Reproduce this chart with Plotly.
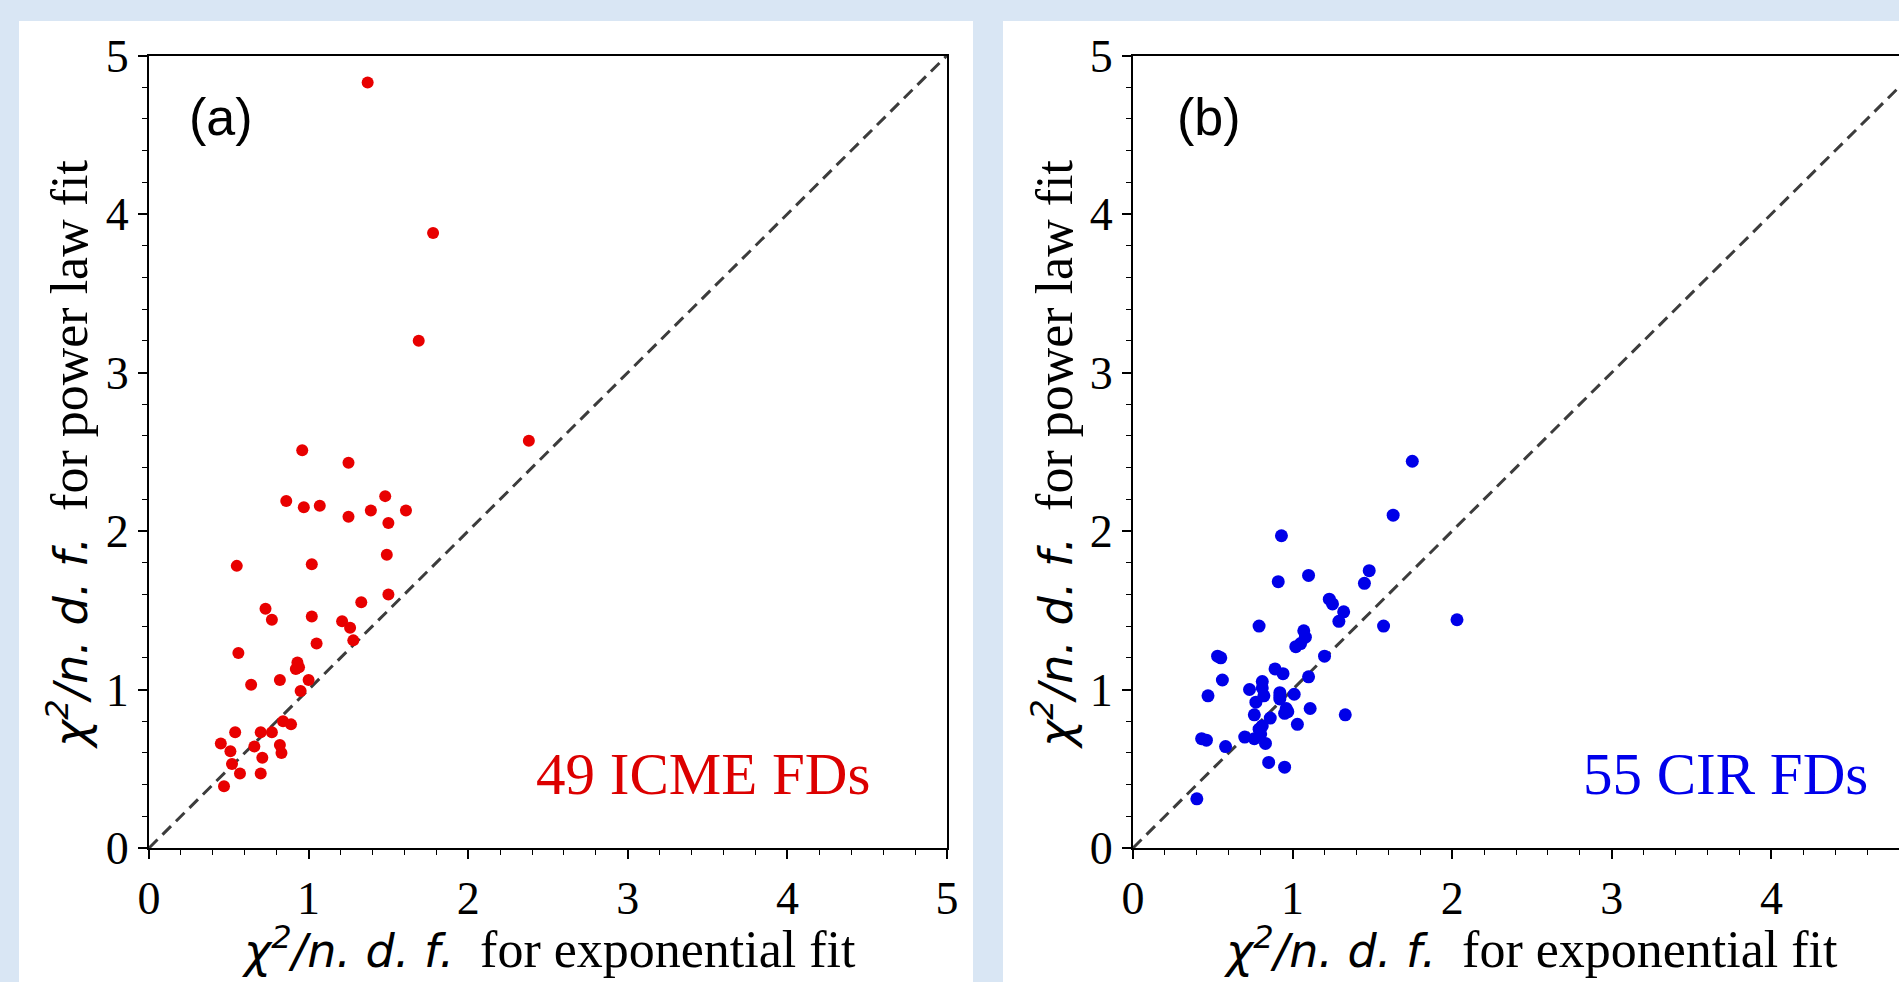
import plotly.graph_objects as go

# chi2/ndf values
icme_exp = [1.37, 1.78, 1.69, 2.38, 0.96, 1.25, 0.86, 0.97, 1.07, 1.48,
            1.39, 1.61, 1.25, 1.50, 0.55, 1.02, 1.49, 1.50, 1.33, 0.73,
            0.77, 1.02, 1.21, 1.26, 1.28, 1.05, 0.56, 0.93, 0.92, 0.64,
            0.82, 1.00, 0.95, 0.84, 0.89, 0.54, 0.70, 0.77, 0.45, 0.66,
            0.82, 0.51, 0.83, 0.71, 0.52, 0.57, 0.70, 0.47, 0.94]
icme_pow = [4.83, 3.88, 3.20, 2.57, 2.51, 2.43, 2.19, 2.15, 2.16, 2.22,
            2.13, 2.13, 2.09, 2.05, 1.78, 1.79, 1.85, 1.60, 1.55, 1.51,
            1.44, 1.46, 1.43, 1.39, 1.31, 1.29, 1.23, 1.17, 1.13, 1.03,
            1.06, 1.06, 0.99, 0.80, 0.78, 0.73, 0.73, 0.73, 0.66, 0.64,
            0.65, 0.61, 0.60, 0.57, 0.53, 0.47, 0.47, 0.39, 1.14]

cir_exp = [1.75, 1.63, 0.93, 0.91, 1.10, 1.48, 1.45, 1.23, 1.25, 1.32,
           1.29, 1.57, 2.03, 0.79, 1.07, 1.08, 1.02, 1.05, 1.20, 0.53,
           0.55, 0.89, 0.94, 0.56, 1.10, 0.81, 0.81, 0.73, 0.47, 0.82,
           0.92, 1.01, 0.77, 0.92, 0.96, 1.11, 0.76, 0.95, 1.33, 0.86,
           1.03, 0.81, 0.70, 0.76, 0.80, 0.43, 0.46, 0.58, 0.83, 0.85,
           0.95, 0.40, 0.97, 0.79, 0.92]
cir_pow = [2.44, 2.10, 1.97, 1.68, 1.72, 1.75, 1.67, 1.57, 1.54, 1.49,
           1.43, 1.40, 1.44, 1.40, 1.37, 1.33, 1.27, 1.29, 1.21, 1.21,
           1.20, 1.13, 1.10, 1.06, 1.08, 1.05, 1.01, 1.00, 0.96, 0.96,
           0.98, 0.97, 0.92, 0.94, 0.88, 0.88, 0.84, 0.85, 0.84, 0.82,
           0.78, 0.77, 0.70, 0.69, 0.72, 0.69, 0.68, 0.64, 0.66, 0.54,
           0.51, 0.31, 0.86, 0.75, 0.96]

diag = [0, 5]
tick_vals = [0, 1, 2, 3, 4, 5]

W, H = 1899, 982


def px(x):
    return x / W


def py(y):
    return 1 - y / H


fig = go.Figure()

dash_line = dict(color="#3c3c3c", width=3, dash="12px,7px")
fig.add_trace(go.Scatter(x=diag, y=diag, mode="lines", xaxis="x", yaxis="y", line=dash_line))
fig.add_trace(go.Scatter(x=icme_exp, y=icme_pow, mode="markers", xaxis="x", yaxis="y",
                         marker=dict(color="rgb(232,0,0)", size=12)))
fig.add_trace(go.Scatter(x=diag, y=diag, mode="lines", xaxis="x2", yaxis="y2", line=dash_line))
fig.add_trace(go.Scatter(x=cir_exp, y=cir_pow, mode="markers", xaxis="x2", yaxis="y2",
                         marker=dict(color="rgb(0,0,232)", size=13)))

tick_font = dict(family="Liberation Serif", size=46, color="black")
minor = dict(tickmode="linear", tick0=0, dtick=0.2, ticks="outside", ticklen=5,
             tickwidth=1, tickcolor="black", showgrid=False)
common = dict(tickmode="array", tickvals=tick_vals, ticks="outside", ticklen=9,
              tickwidth=1.5, tickcolor="black", showline=True, linecolor="black",
              linewidth=2, showgrid=False, zeroline=False, tickfont=tick_font,
              minor=minor, automargin=False)

ya_bottom, ya_top = 848, 55.5
fig.update_layout(
    width=W, height=H,
    margin=dict(l=0, r=0, t=0, b=0, pad=0),
    paper_bgcolor="#d9e6f4",
    plot_bgcolor="white",
    showlegend=False,
    xaxis=dict(domain=[px(149), px(947)], range=[0, 5], anchor="y", mirror=True, **common),
    yaxis=dict(domain=[py(ya_bottom), py(ya_top)], range=[0, 5], anchor="x", mirror=True, **common),
    xaxis2=dict(domain=[px(1133), 1.0], range=[0, (W - 1133) / 159.6], anchor="y2",
                mirror=True, **common),
    yaxis2=dict(domain=[py(ya_bottom), py(ya_top)], range=[0, 5], anchor="x2", **common),
    shapes=[
        dict(type="rect", xref="paper", yref="paper", x0=px(19), x1=px(973),
             y0=0, y1=py(21), fillcolor="white", line=dict(width=0), layer="below"),
        dict(type="rect", xref="paper", yref="paper", x0=px(1003), x1=1.0,
             y0=0, y1=py(21), fillcolor="white", line=dict(width=0), layer="below"),
    ],
)

sans_it = ('<span style="font-family:DejaVu Sans;font-style:italic;font-size:46px">'
           'χ<sup>2</sup>/n. d. f.</span>')
serif = dict(family="Liberation Serif", size=52, color="black")
x_title = sans_it + "  for exponential fit"
y_title = sans_it + "  for power law fit"

annotations = [
    dict(text=x_title, xref="paper", yref="paper", x=px(548), y=py(948), showarrow=False,
         xanchor="center", yanchor="middle", font=serif),
    dict(text=y_title, xref="paper", yref="paper", x=px(68), y=py(455), showarrow=False,
         xanchor="center", yanchor="middle", textangle=-90, font=serif),
    dict(text=x_title, xref="paper", yref="paper", x=px(1530), y=py(948), showarrow=False,
         xanchor="center", yanchor="middle", font=serif),
    dict(text=y_title, xref="paper", yref="paper", x=px(1053), y=py(455), showarrow=False,
         xanchor="center", yanchor="middle", textangle=-90, font=serif),
    dict(text="(a)", xref="x", yref="y", x=0.24, y=4.61, showarrow=False,
         xanchor="left", yanchor="middle",
         font=dict(family="Liberation Sans", size=52, color="black")),
    dict(text="(b)", xref="x2", yref="y2", x=0.26, y=4.61, showarrow=False,
         xanchor="left", yanchor="middle",
         font=dict(family="Liberation Sans", size=52, color="black")),
    dict(text="49 ICME FDs", xref="x", yref="y", x=4.53, y=0.47, showarrow=False,
         xanchor="right", yanchor="middle",
         font=dict(family="Liberation Serif", size=59, color="rgb(220,0,0)")),
    dict(text="55 CIR FDs", xref="x2", yref="y2", x=4.62, y=0.47, showarrow=False,
         xanchor="right", yanchor="middle",
         font=dict(family="Liberation Serif", size=59, color="rgb(0,0,235)")),
]
fig.update_layout(annotations=annotations)

fig.write_html("out.html", config={"displayModeBar": False},
               post_script="document.body.style.margin='0';document.body.style.overflow='hidden';")
